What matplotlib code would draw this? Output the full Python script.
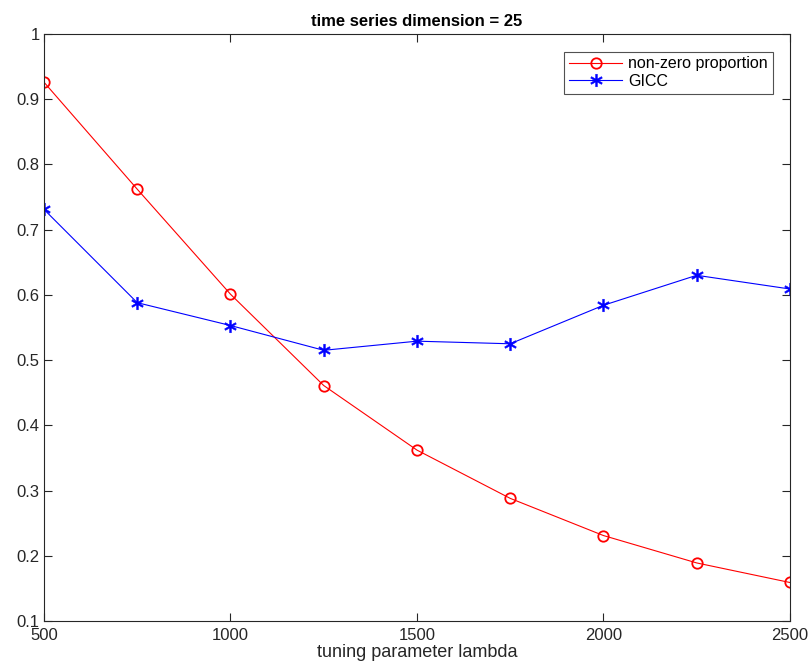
import numpy as np
import matplotlib.pyplot as plt

plt.rcParams['font.family'] = ['Liberation Sans', 'DejaVu Sans']

# tuning parameter values and the two measured curves
lam = [500, 750, 1000, 1250, 1500, 1750, 2000, 2250, 2500]
nonzero_prop = [0.926, 0.762, 0.601, 0.461, 0.362, 0.288, 0.231, 0.189, 0.159]
gicc = [0.731, 0.588, 0.553, 0.515, 0.529, 0.525, 0.584, 0.630, 0.609]

fig = plt.figure(figsize=(8.09, 6.66), dpi=100)
ax = fig.add_axes([0.0544, 0.0676, 0.922, 0.8814])

ax.plot(lam, nonzero_prop, color='red', lw=0.8, marker='o', ms=7.5,
        mfc='none', mec='red', mew=1.3, label='non-zero proportion')
ax.plot(lam, gicc, color='blue', lw=0.8, marker='$\\ast$', ms=9,
        mfc='blue', mec='blue', mew=0.4, label='GICC')

ax.set_xlim(500, 2500)
ax.set_ylim(0.1, 1.0)
ax.set_xticks([500, 1000, 1500, 2000, 2500])
ax.set_yticks(np.round(np.arange(0.1, 1.01, 0.1), 1))
ax.set_yticklabels(['0.1', '0.2', '0.3', '0.4', '0.5', '0.6', '0.7', '0.8', '0.9', '1'])

axis_col = '#262626'
for s in ax.spines.values():
    s.set_color(axis_col)
    s.set_linewidth(0.8)
ax.tick_params(direction='in', top=True, right=True, length=6, width=0.8,
               colors=axis_col, labelsize=12, pad=3)
ax.tick_params(axis='x', pad=5)

ax.set_title('time series dimension = 25', fontsize=12, fontweight='bold', pad=6)
ax.set_xlabel('tuning parameter lambda', fontsize=13, labelpad=1, color=axis_col)

leg = ax.legend(loc='upper right', bbox_to_anchor=(0.977, 0.97), fontsize=11.5,
                frameon=True, fancybox=False, edgecolor=axis_col,
                borderpad=0.3, labelspacing=0.15, handlelength=3.3,
                handletextpad=0.4, borderaxespad=0)
leg.get_frame().set_linewidth(0.8)

fig.savefig('out.png', dpi=100)
